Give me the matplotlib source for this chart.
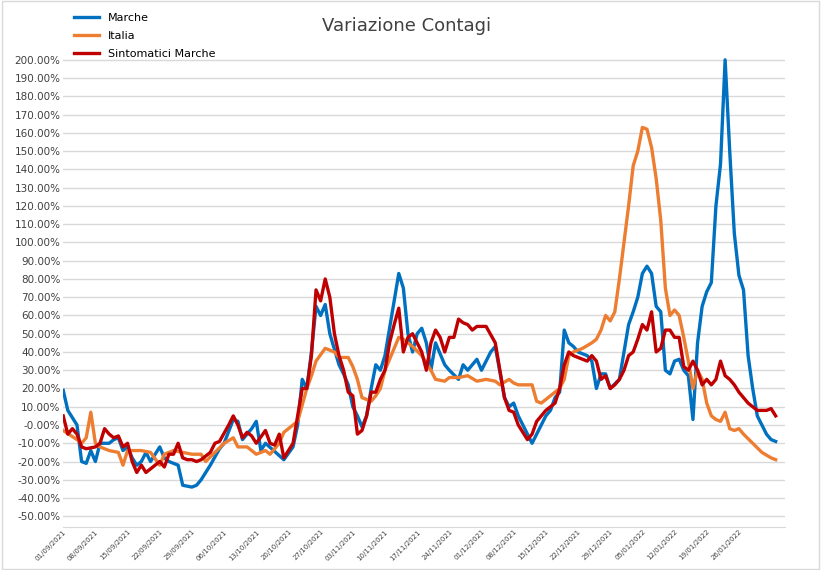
import matplotlib
matplotlib.use("Agg")
import matplotlib.pyplot as plt
import numpy as np
import datetime as dt

START = dt.date(2021, 9, 1)

# (day offset from 01/09/2021, value in %)
marche = [(0,19),(1,8),(3,0),(4,-20),(5,-21),(6,-14),(7,-20),(8,-10),(10,-10),(11,-8),(12,-7),(13,-14),
          (14,-12),(15,-18),(16,-22),(17,-20),(18,-15),(19,-20),(20,-16),(21,-12),(22,-18),(23,-20),(25,-22),
          (26,-33),(28,-34),(29,-33),(30,-30),(32,-22),(34,-13),(35,-10),(37,3),(38,2),(39,-8),(41,-2),(42,2),
          (43,-14),(44,-10),(48,-19),(50,-12),(51,0),(52,25),(53,20),(54,40),(55,65),(56,60),(57,66),(58,50),
          (60,33),(61,28),(62,22),(63,10),(64,5),(65,-1),(66,5),(67,20),(68,33),(69,30),(70,38),(72,68),(73,83),
          (74,75),(75,50),(76,40),(77,50),(78,53),(79,45),(80,30),(81,45),(83,33),(84,30),(86,25),(87,33),(88,30),
          (90,36),(91,30),(93,40),(94,43),(96,15),(97,10),(98,12),(99,5),(101,-5),(102,-10),(104,0),(105,5),
          (106,8),(107,15),(108,18),(109,52),(110,45),(111,43),(112,40),(114,38),(115,35),(116,20),(117,28),
          (118,28),(119,20),(121,25),(122,40),(123,55),(124,62),(125,70),(126,83),(127,87),(128,83),(129,65),
          (130,62),(131,30),(132,28),(133,35),(134,36),(135,30),(136,27),(137,3),(138,45),(139,65),(140,73),
          (141,78),(142,120),(143,143),(144,200),(145,150),(146,105),(147,82),(148,74),(149,38),(150,20),
          (151,5),(152,0),(153,-5),(154,-8),(155,-9)]

italia = [(0,-3),(3,-8),(4,-10),(5,-7),(6,7),(7,-10),(8,-12),(10,-14),(12,-15),(13,-22),(14,-14),(17,-14),
          (19,-15),(21,-22),(22,-16),(24,-14),(28,-16),(30,-16),(31,-20),(33,-15),(35,-10),(37,-7),(38,-12),
          (40,-12),(42,-16),(44,-14),(45,-16),(47,-10),(48,-4),(49,-2),(51,2),(53,20),(54,27),(55,35),(57,42),
          (59,40),(60,37),(62,37),(63,32),(64,25),(65,15),(67,13),(68,16),(69,20),(70,30),(72,42),(73,48),
          (74,47),(76,43),(78,38),(80,30),(81,25),(83,24),(84,26),(86,26),(88,27),(90,24),(92,25),(94,24),
          (95,22),(97,25),(98,23),(99,22),(102,22),(103,13),(104,12),(105,14),(106,16),(108,20),(109,25),
          (110,38),(111,40),(113,42),(115,45),(116,47),(117,52),(118,60),(119,57),(120,62),(121,80),(122,100),
          (123,120),(124,142),(125,150),(126,163),(127,162),(128,152),(129,135),(130,112),(131,75),(132,60),
          (133,63),(134,60),(135,48),(136,35),(137,20),(138,30),(139,25),(140,12),(141,5),(142,3),(143,2),
          (144,7),(145,-2),(146,-3),(147,-2),(148,-5),(150,-10),(152,-15),(154,-18),(155,-19)]

sintomatici = [(0,5),(1,-5),(2,-2),(3,-5),(4,-12),(5,-13),(7,-12),(8,-10),(9,-2),(10,-5),(11,-7),(12,-6),
               (13,-12),(14,-10),(15,-20),(16,-26),(17,-22),(18,-26),(19,-24),(21,-20),(22,-23),(23,-16),
               (24,-16),(25,-10),(26,-18),(27,-19),(28,-19),(29,-20),(30,-19),(32,-15),(33,-10),(34,-9),(36,0),
               (37,5),(38,0),(39,-7),(40,-4),(41,-6),(42,-10),(44,-3),(45,-10),(46,-11),(47,-5),(48,-18),(50,-10),
               (51,5),(52,20),(53,20),(54,38),(55,74),(56,68),(57,80),(58,70),(59,50),(60,38),(61,30),(62,18),
               (63,16),(64,-5),(65,-3),(66,5),(67,18),(68,18),(69,25),(70,30),(71,45),(72,55),(73,64),(74,40),
               (75,48),(76,50),(77,45),(78,40),(79,30),(80,45),(81,52),(82,48),(83,40),(84,48),(85,48),(86,58),
               (87,56),(88,55),(89,52),(90,54),(92,54),(94,45),(95,30),(96,15),(97,8),(98,7),(99,0),(101,-8),
               (102,-5),(103,2),(104,5),(105,8),(107,12),(108,20),(109,33),(110,40),(111,38),(113,36),(114,35),
               (115,38),(116,35),(117,25),(118,27),(119,20),(120,22),(121,25),(122,30),(123,38),(124,40),
               (125,47),(126,55),(127,52),(128,62),(129,40),(130,42),(131,52),(132,52),(133,48),(134,48),
               (135,32),(136,30),(137,35),(138,30),(139,22),(140,25),(141,22),(142,25),(143,35),(144,27),
               (145,25),(146,22),(147,18),(149,12),(151,8),(153,8),(154,9),(155,5)]

fig = plt.figure(figsize=(8.21, 5.70), dpi=100)
ax = fig.add_axes([0.077, 0.075, 0.879, 0.836])

for data, color, label in [(marche, "#0070C0", "Marche"),
                           (italia, "#ED7D31", "Italia"),
                           (sintomatici, "#C00000", "Sintomatici Marche")]:
    d = np.array(data, dtype=float)
    ax.plot(d[:, 0], d[:, 1] / 100, color=color, lw=2.4, label=label)

ax.set_xlim(0, 157)
ax.set_ylim(-0.56, 2.05)
yt = np.arange(-0.5, 2.01, 0.1)
ax.set_yticks(yt)
ax.set_yticklabels(["%.2f%%" % (v * 100) for v in yt], fontsize=7.5, color="#404040")
ax.yaxis.grid(True, color="#D9D9D9", lw=1)
ax.set_axisbelow(True)
ax.tick_params(axis="y", length=0, pad=2)

xt = np.arange(0, 150, 7)
ax.set_xticks(xt)
ax.set_xticklabels([(START + dt.timedelta(days=int(d))).strftime("%d/%m/%Y") for d in xt],
                   rotation=45, ha="right", rotation_mode="anchor", fontsize=5, color="#404040")
ax.tick_params(axis="x", length=0, pad=1)
for s in ["top", "right", "left"]:
    ax.spines[s].set_visible(False)
ax.spines["bottom"].set_color("#D9D9D9")

fig.text(0.495, 0.955, "Variazione Contagi", ha="center", va="center", fontsize=13, color="#404040")
fig.legend(loc="upper left", bbox_to_anchor=(0.085, 0.985), frameon=False, fontsize=8,
           handlelength=2.2, labelspacing=0.7, borderaxespad=0)

fig.patches.append(plt.Rectangle((0.002, 0.002), 0.996, 0.996, transform=fig.transFigure,
                                 fill=False, edgecolor="#D9D9D9", lw=1))
fig.savefig("out.png", dpi=100)
